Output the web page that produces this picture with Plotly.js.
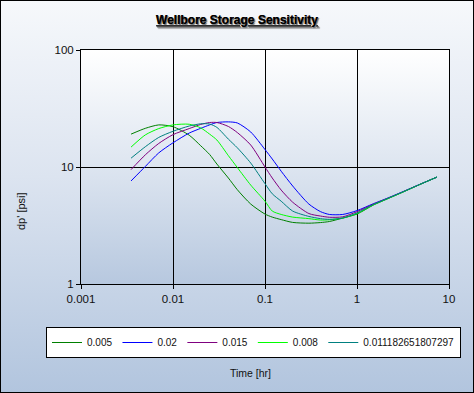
<!DOCTYPE html>
<html>
<head>
<meta charset="utf-8">
<script src="https://cdn.plot.ly/plotly-3.0.1.min.js"></script>
<style>
  html, body { margin: 0; padding: 0; background: #ffffff; }
  #frame {
    position: relative; width: 474px; height: 393px; box-sizing: border-box;
    border: 1px solid #000;
    background: linear-gradient(to bottom, #f6f8fb 0%, #dce4f0 45%, #b2c5de 100%);
    overflow: hidden;
  }
  #plotbg {
    position: absolute; left: 80px; top: 49px; width: 368px; height: 234px;
    background: linear-gradient(to bottom, #ffffff 0%, #dde5f0 50%, #b7c8df 100%);
  }
  #chart { position: absolute; left: -1px; top: -1px; width: 474px; height: 393px; }
</style>
</head>
<body>
<div id="frame">
  <div id="plotbg"></div>
  <div id="chart"></div>
</div>
<script>
// ---- data ----
const time = [0.0035, 0.005, 0.007, 0.01, 0.015, 0.02, 0.025, 0.03, 0.04, 0.05, 0.07, 0.1, 0.12, 0.15, 0.2, 0.3, 0.4, 0.5, 0.7, 1, 1.5, 2, 3, 5, 7.4];

const seriesNames = ["0.005", "0.02", "0.015", "0.008", "0.011182651807297"];

const dp_0005 = [19.1, 21.4, 22.9, 22.1, 18.7, 15.2, 12.8, 10.6, 8.05, 6.4, 4.82, 3.96, 3.73, 3.55, 3.36, 3.31, 3.35, 3.42, 3.66, 3.96, 4.72, 5.22, 6.0, 7.18, 8.2];
const dp_002  = [7.6, 10.1, 13.2, 16.1, 19.5, 21.4, 22.9, 24.0, 24.3, 23.8, 19.9, 14.1, 11.7, 9.2, 6.88, 4.82, 4.16, 3.93, 3.93, 4.24, 4.85, 5.3, 6.05, 7.2, 8.2];
const dp_0015 = [9.5, 12.7, 15.9, 18.9, 21.3, 23.1, 24.0, 24.0, 22.2, 19.7, 15.4, 10.0, 8.05, 6.35, 5.0, 4.0, 3.81, 3.72, 3.75, 4.15, 4.8, 5.27, 6.03, 7.19, 8.2];
const dp_0008 = [14.8, 18.8, 21.3, 22.9, 23.2, 21.6, 19.1, 17.0, 12.5, 9.9, 7.0, 5.1, 4.2, 3.93, 3.73, 3.62, 3.52, 3.54, 3.66, 4.0, 4.74, 5.23, 6.0, 7.18, 8.2];
const dp_00111 = [11.9, 14.9, 17.9, 20.2, 22.4, 23.4, 23.3, 21.8, 17.3, 14.6, 10.8, 7.2, 5.9, 5.1, 4.2, 3.78, 3.62, 3.57, 3.66, 4.05, 4.77, 5.25, 6.02, 7.18, 8.2];

const seriesValues = [dp_0005, dp_002, dp_0015, dp_0008, dp_00111];
const seriesColors = ["#008000", "#0000ff", "#800080", "#00ff00", "#008080"];

const xTickVals = [0.001, 0.01, 0.1, 1, 10];
const xTickText = ["0.001", "0.01", "0.1", "1", "10"];
const yTickVals = [1, 10, 100];
const yTickText = ["1", "10", "100"];

// ---- chart ----
const traces = seriesNames.map((name, i) => ({
  type: "scatter",
  mode: "lines",
  name: name,
  x: time,
  y: seriesValues[i],
  line: { color: seriesColors[i], width: 1, shape: "spline", smoothing: 0.7 },
  hoverinfo: "skip"
}));

const tickFont = { family: "Liberation Sans, Arial, sans-serif", size: 11.5, color: "#111" };

const layout = {
  width: 474, height: 393,
  margin: { l: 81, r: 25, t: 50, b: 109, pad: 0, autoexpand: false },
  paper_bgcolor: "rgba(0,0,0,0)",
  plot_bgcolor: "rgba(0,0,0,0)",
  showlegend: true,
  title: {
    text: "Wellbore Storage Sensitivity",
    font: { family: "Liberation Sans, Arial, sans-serif", size: 12, weight: "bold", color: "#000",
            lineposition: "under", shadow: "1px 1px 1px #7a7a7a" },
    x: 0.5, xref: "container", xanchor: "center",
    y: 1 - 20 / 393, yref: "container", yanchor: "middle"
  },
  xaxis: {
    type: "log", range: [-3, 1], automargin: false,
    tickmode: "array", tickvals: xTickVals, ticktext: xTickText,
    ticks: "outside", ticklen: 4, tickcolor: "#000", tickwidth: 1,
    showline: true, linecolor: "#000", linewidth: 1, mirror: true,
    showgrid: true, gridcolor: "#000", gridwidth: 1,
    zeroline: false, tickfont: tickFont, fixedrange: true
  },
  yaxis: {
    type: "log", range: [0, 2], automargin: false,
    tickmode: "array", tickvals: yTickVals, ticktext: yTickText,
    ticks: "outside", ticklen: 4, tickcolor: "#000", tickwidth: 1,
    showline: true, linecolor: "#000", linewidth: 1, mirror: true,
    showgrid: true, gridcolor: "#000", gridwidth: 1,
    zeroline: false, tickfont: tickFont, fixedrange: true
  },
  legend: {
    orientation: "h",
    xref: "paper", yref: "paper",
    x: (46 - 81) / 368, xanchor: "left",
    y: (284 - 327) / 234, yanchor: "top",
    bgcolor: "#ffffff", bordercolor: "#000", borderwidth: 1,
    font: { family: "Liberation Sans, Arial, sans-serif", size: 10, color: "#111" },
    traceorder: "normal"
  },
  annotations: [
    {
      text: "Time [hr]", showarrow: false,
      xref: "paper", yref: "paper",
      x: (250 - 81) / 368, y: (284 - 373) / 234,
      xanchor: "center", yanchor: "middle",
      font: { family: "Liberation Sans, Arial, sans-serif", size: 10.5, color: "#111" }
    },
    {
      text: "dp' [psi]", showarrow: false, textangle: -90,
      xref: "paper", yref: "paper",
      x: (21 - 81) / 368, y: (284 - 211) / 234,
      xanchor: "center", yanchor: "middle",
      font: { family: "Liberation Sans, Arial, sans-serif", size: 11, color: "#111" }
    }
  ]
};

Plotly.newPlot("chart", traces, layout, { staticPlot: true, displayModeBar: false });
</script>
</body>
</html>
